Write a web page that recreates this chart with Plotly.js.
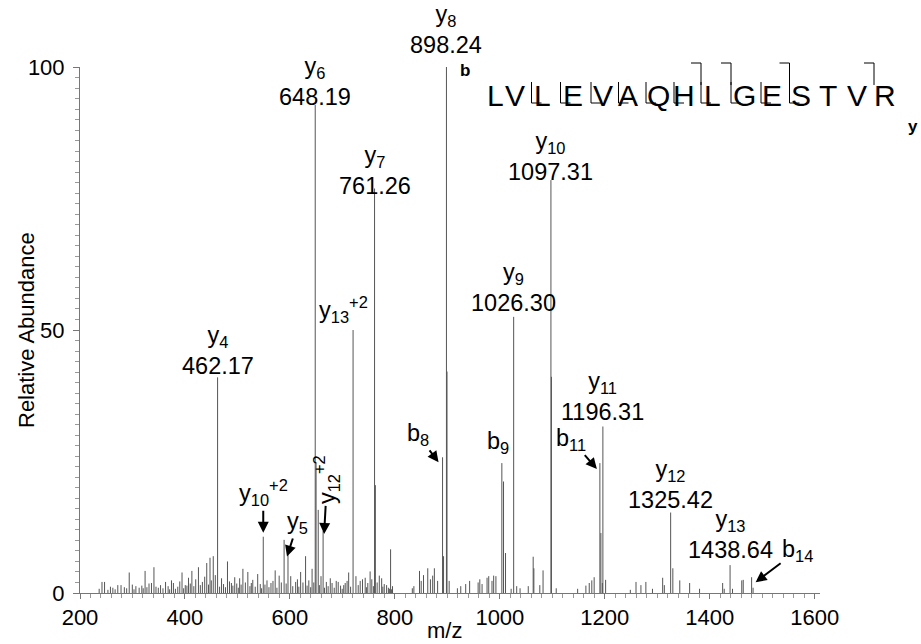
<!DOCTYPE html>
<html><head><meta charset="utf-8">
<script src="https://cdn.plot.ly/plotly-3.0.1.min.js"></script>
<style>html,body{margin:0;padding:0;background:#fff}#chart{width:921px;height:644px}</style>
</head><body><div id="chart"></div>
<script>
// ---- data ----
const ionNames = ['y4','y10+2','y5','y6','y12+2','y13+2','y7','b8','y8','b9','y9','y10','b11','y11','y12','y13','b14'];
const ionMz    = [462.17,549.16,596.3,648.19,663.2,720.3,761.26,890.8,898.24,1003.8,1026.30,1097.31,1190.6,1196.31,1325.42,1438.64,1479.7];
const ionInt   = [41.0,10.7,7.5,92.8,11.8,50.0,76.9,25.8,100,24.7,52.5,78.5,24.7,37.3,15.3,5.3,3.0];
const ionShowMz = [true,false,false,true,false,false,true,false,true,false,true,true,false,true,true,true,false];

const noiseMz = [241.9,246.8,253.2,262.6,272.0,278.2,293.8,306.5,312.7,324.0,331.5,340.9,349.2,353.5,363.0,374.3,381.8,394.4,400.6,406.8,413.2,425.7,433.2,441.5,447.7,453.9,469.7,481.0,488.5,494.8,504.2,510.4,519.8,529.2,538.6,556.3,563.9,571.9,579.5,588.9,601.5,610.9,620.4,629.8,636.0,642.2,649.8,653.9,659.2,669.4,676.9,688.2,692.0,702.5,708.9,711.9,725.8,733.9,738.3,743.4,748.4,752.8,756.0,762.8,770.3,774.8,779.7,784.2,791.8,795.5,833.2,836.2,846.9,850.1,854.5,862.6,867.7,872.0,875.2,881.4,892.7,899.3,903.4,919.1,925.5,934.9,942.4,958.6,961.8,966.1,975.6,978.8,985.0,988.2,992.5,1007.0,1010.8,1021.5,1032.1,1038.5,1054.1,1063.5,1064.8,1076.1,1082.3,1098.3,1107.4,1148.2,1163.9,1170.3,1175.2,1179.7,1192.5,1195.3,1201.5,1248.6,1259.4,1268.8,1278.2,1290.8,1310.2,1313.4,1329.6,1342.8,1361.6,1380.5,1424.5,1427.5,1443.3,1460.9,1463.7,1482.5];
const noiseInt = [2.1,2.1,0.6,1.0,1.5,1.5,3.9,1.3,1.0,4.2,1.8,4.9,1.0,1.5,2.1,2.4,0.8,3.9,1.5,2.9,4.2,4.9,2.1,5.7,6.7,7.0,2.8,6.0,1.9,3.0,2.8,4.6,4.0,2.5,3.6,2.4,1.9,4.3,3.3,10.1,3.2,2.1,4.0,7.0,2.4,4.6,24.8,15.8,3.2,2.1,2.8,2.3,2.1,1.5,2.3,3.9,3.2,2.3,2.6,2.9,1.9,4.1,2.6,20.5,3.3,2.8,1.7,1.5,8.3,1.3,0.9,1.3,4.2,2.3,3.4,4.7,2.6,3.3,4.7,2.3,7.0,42.1,2.3,0.9,1.3,1.7,2.3,2.0,2.6,1.7,2.9,3.2,2.3,3.3,3.2,21.2,7.6,0.8,1.3,0.9,1.3,6.9,4.7,1.5,4.3,41.1,0.9,0.8,1.4,1.9,2.4,3.0,11.4,1.9,2.5,0.6,2.1,1.5,2.1,0.8,2.9,1.5,4.7,2.4,1.9,0.8,1.9,0.8,0.8,2.4,2.5,1.0];

// low-level "grass" between the listed peaks (read roughly from the baseline texture)
const grassMz  = [236.5,258.0,266.9,284.5,288.9,299.7,302.9,317.8,320.4,327.5,336.2,344.8,358.1,367.9,370.8,378.0,386.3,390.1,397.5,403.7,410.1,416.9,420.5,429.3,437.6,444.8,450.2,457.8,466.0,473.5,477.2,484.8,491.3,498.7,501.6,507.0,515.1,523.8,526.4,533.9,543.5,546.0,552.4,560.0,567.7,575.2,583.6,592.8,605.4,614.3,617.0,624.8,632.7,639.5,645.5,656.1,665.8,672.8,680.3,684.4,696.5,699.6,705.3,715.6,730.1,746.1,759.0,766.2,777.0,787.6,789.5,793.7];
const grassInt = [0.8,1.2,0.7,1.1,0.9,1.6,0.7,1.4,0.9,1.1,1.9,1.2,0.9,1.3,0.7,1.9,1.2,2.2,0.9,1.4,1.8,1.3,2.6,1.5,3.1,1.6,2.4,3.4,1.2,1.7,1.1,2.2,1.4,1.8,1.0,1.6,2.0,1.3,1.9,1.2,1.7,0.9,1.6,1.1,2.3,1.0,2.0,1.8,1.3,2.6,1.2,2.0,1.4,1.1,2.0,1.5,1.0,1.3,1.9,1.0,1.4,0.8,1.9,1.2,1.5,1.1,1.3,2.0,1.2,1.0,0.8,0.7];

const xTickVals = [200,400,600,800,1000,1200,1400,1600];
const yTickVals = [0,50,100];

const sequence = ['L','V','L','E','V','A','Q','H','L','G','E','S','T','V','R'];
const bIonMarks = [8,9,11,14];
const yIonMarks = [4,5,6,7,8,9,10,11,12,13];

// ---- layout / style (pixel positions of decorations) ----
const W = 921, H = 644, ML = 80, MR = 101, MT = 67, MB = 51;
const PW = W - ML - MR, PH = H - MT - MB;
const px2x = p => (p - ML) / PW;
const py2y = p => (H - MB - p) / PH;
const FONT = 'Liberation Sans, Arial, sans-serif';
const LABEL_SIZE = 23.5;

const seqPx = [495,515,542,573,603,628,658,684,712,744,772,801,828,857,885];
const seqCapY = 96;

// label styles: ys = yshift for plain labels, xs = xshift; arrow = [xshift, yshift, ax, ay]
const labelStyle = {
  'y4':   {ys:-4},
  'y10+2':{arrow:[0,4,0,-40]},
  'y5':   {arrow:[-1,-3,11,-34]},
  'y6':   {ys:-7},
  'y12+2':{arrow:[1,-3,3,-54], angle:-90},
  'y13+2':{ys:2, xs:-10},
  'y7':   {ys:-12},
  'b8':   {arrow:[-4,-5,-21,-28]},
  'y8':   {ys:7},
  'b9':   {ys:4, xs:-4},
  'y9':   {ys:-1},
  'y10':  {ys:-7},
  'b11':  {arrow:[-3,-6,-26,-30]},
  'y11':  {ys:-30, bg:'#ffffff'},
  'y12':  {ys:-2},
  'y13':  {ys:0},
  'b14':  {arrow:[4,-5,42,-32]}
};

// ---- build peak sticks ----
const allMz = ionMz.concat(noiseMz, grassMz);
const allInt = ionInt.concat(noiseInt, grassInt);
const sx = [], sy = [];
allMz.forEach((m, i) => { sx.push(m, m, null); sy.push(0, allInt[i], null); });

const trace = {
  x: sx, y: sy, type: 'scatter', mode: 'lines',
  line: {color: '#555555', width: 1}, hoverinfo: 'skip', showlegend: false
};

function ionLabel(name) {
  const m = name.match(/^([by])(\d+)(\+\d+)?$/);
  let s = m[1] + '<sub>' + m[2] + '</sub>';
  if (m[3]) s += '<sup>' + m[3] + '</sup>';
  return s;
}

const annotations = [];
ionNames.forEach((n, i) => {
  const st = labelStyle[n] || {};
  let text = ionLabel(n);
  if (ionShowMz[i]) text += '<br>' + ionMz[i].toFixed(2);
  const a = {
    x: ionMz[i], y: ionInt[i], xref: 'x', yref: 'y', text: text,
    font: {family: FONT, size: LABEL_SIZE, color: '#000'}, align: 'center'
  };
  if (st.arrow) {
    a.showarrow = true; a.xshift = st.arrow[0]; a.yshift = st.arrow[1];
    a.ax = st.arrow[2]; a.ay = st.arrow[3];
    a.arrowhead = 2; a.arrowsize = 1.1; a.arrowwidth = 2; a.arrowcolor = '#000';
    if (st.angle) a.textangle = st.angle;
  } else {
    a.showarrow = false; a.yanchor = 'bottom'; a.xanchor = 'center';
    a.yshift = st.ys || 0; a.xshift = st.xs || 0;
    if (st.bg) a.bgcolor = st.bg;
  }
  annotations.push(a);
});

// axis titles as annotations (positioned as in reference)
annotations.push({x: px2x(26), y: 0.5, xref: 'paper', yref: 'paper', text: 'Relative Abundance',
  textangle: -90, showarrow: false, font: {family: FONT, size: 22, color: '#000'}, xanchor: 'center', yanchor: 'middle'});
annotations.push({x: px2x(444), y: py2y(630), xref: 'paper', yref: 'paper', text: 'm/z',
  showarrow: false, font: {family: FONT, size: 22, color: '#000'}, xanchor: 'center', yanchor: 'middle'});

// sequence letters
sequence.forEach((c, i) => {
  annotations.push({x: px2x(seqPx[i]), y: py2y(seqCapY), xref: 'paper', yref: 'paper', text: c,
    showarrow: false, font: {family: FONT, size: 30, color: '#000'}, xanchor: 'center', yanchor: 'middle'});
});
annotations.push({x: px2x(465), y: py2y(71), xref: 'paper', yref: 'paper', text: '<b>b</b>',
  showarrow: false, font: {family: FONT, size: 17, color: '#000'}, xanchor: 'center', yanchor: 'middle'});
annotations.push({x: px2x(913), y: py2y(126), xref: 'paper', yref: 'paper', text: '<b>y</b>',
  showarrow: false, font: {family: FONT, size: 17, color: '#000'}, xanchor: 'center', yanchor: 'middle'});

// fragmentation brackets
const gapPx = k => (seqPx[k - 1] + seqPx[k]) / 2 + 3;
const shapes = [];
const ln = (x0, y0, x1, y1) => ({type: 'line', xref: 'paper', yref: 'paper',
  x0: px2x(x0), y0: py2y(y0), x1: px2x(x1), y1: py2y(y1), line: {color: '#000', width: 1}});
bIonMarks.forEach(n => {
  const g = gapPx(n);
  shapes.push(ln(g - 10, 63, g, 63), ln(g, 63, g, 85));
});
yIonMarks.forEach(n => {
  const g = gapPx(sequence.length - n);
  shapes.push(ln(g, 82, g, 103), ln(g, 103, g + 10, 103));
});

const layout = {
  width: W, height: H,
  margin: {l: ML, r: MR, t: MT, b: MB, pad: 0},
  paper_bgcolor: '#fff', plot_bgcolor: '#fff',
  font: {family: FONT, size: 22, color: '#000'},
  showlegend: false,
  xaxis: {
    range: [200, 1610], tickvals: xTickVals, ticktext: xTickVals.map(String),
    showgrid: false, zeroline: false, showline: true, linecolor: '#777', linewidth: 1,
    ticks: 'outside', ticklen: 5, tickcolor: '#777', tickwidth: 1,
    minor: {dtick: 20, tick0: 200, ticks: 'outside', ticklen: 4, tickcolor: '#999', showgrid: false},
    tickfont: {family: FONT, size: 22, color: '#000'}, title: {text: ''}
  },
  yaxis: {
    range: [0, 100], tickvals: yTickVals, ticktext: yTickVals.map(String),
    showgrid: false, zeroline: false, showline: true, linecolor: '#777', linewidth: 1,
    ticks: 'outside', ticklen: 6, tickcolor: '#777', tickwidth: 1,
    minor: {dtick: 2, tick0: 0, ticks: 'outside', ticklen: 4, tickcolor: '#999', showgrid: false},
    tickfont: {family: FONT, size: 22, color: '#000'}, ticklabelstandoff: 4, title: {text: ''}
  },
  annotations: annotations,
  shapes: shapes
};

Plotly.newPlot('chart', [trace], layout, {displayModeBar: false, staticPlot: true});
</script>
</body></html>
